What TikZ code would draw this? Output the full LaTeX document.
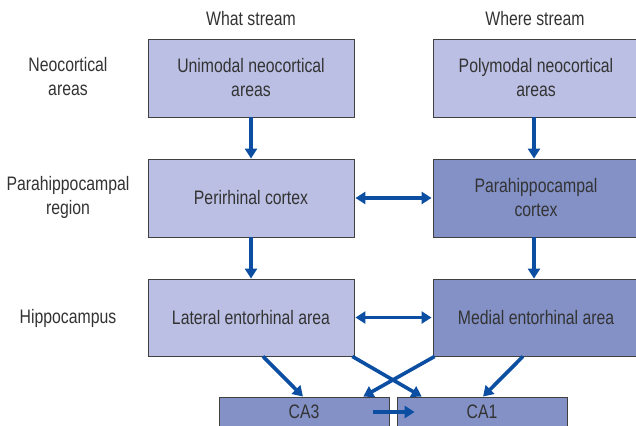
\documentclass[tikz,border=0pt]{standalone}
\usepackage{fontspec}
\setmainfont[FakeStretch=0.81]{Liberation Sans}
\usetikzlibrary{arrows.meta,calc}
\definecolor{lightbox}{HTML}{BBBFE3}
\definecolor{darkbox}{HTML}{8391C7}
\definecolor{arrowblue}{HTML}{0B4EA2}
\definecolor{txt}{HTML}{333333}
\tikzset{
  box/.style={draw=black!75, line width=0.9pt, fill=lightbox, text=txt, align=center, inner sep=0pt,
    font=\fontsize{19.5}{24}\selectfont},
  dbox/.style={box, fill=darkbox},
  lbl/.style={text=txt, align=center, font=\fontsize{19.5}{24}\selectfont},
  arr/.style={draw=arrowblue, line width=3.6pt, -{Triangle[length=10pt,width=12pt]}},
  darr/.style={draw=arrowblue, line width=3.6pt, {Triangle[length=10pt,width=12pt]}-{Triangle[length=10pt,width=12pt]}}
}
\begin{document}
\begin{tikzpicture}[x=1pt,y=-1pt]
\useasboundingbox (0,0) rectangle (636,425);
\clip (0,0) rectangle (636,425);
% headers
\node[lbl] (what) at (251,19) {What stream};
\node[lbl] (where) at (535,19) {Where stream};
\node[lbl] (neo) at (68,77) {Neocortical\\areas};
\node[lbl] (para) at (68,197) {Parahippocampal\\region};
\node[lbl] (hip) at (68,318) {Hippocampus};
% boxes
\node[box, minimum width=206pt, minimum height=78pt] (uni) at (251,78) {Unimodal neocortical\\areas};
\node[box, minimum width=206pt, minimum height=78pt] (poly) at (536,78) {Polymodal neocortical\\areas};
\node[box, minimum width=206pt, minimum height=78pt] (peri) at (251,198) {Perirhinal cortex};
\node[dbox, minimum width=206pt, minimum height=78pt] (parac) at (536,198) {Parahippocampal\\cortex};
\node[box, minimum width=206pt, minimum height=77pt] (lat) at (251,317.5) {Lateral entorhinal area};
\node[dbox, minimum width=206pt, minimum height=77pt] (med) at (536,317.5) {Medial entorhinal area};
\node[dbox, minimum width=170pt, minimum height=30pt] (ca3) at (304,412) {CA3};
\node[dbox, minimum width=170pt, minimum height=30pt] (ca1) at (482,412) {CA1};
% arrows
\draw[arr] (uni.south) -- (peri.north);
\draw[arr] ([xshift=-2pt]poly.south) -- ([xshift=-2pt]parac.north);
\draw[arr] (peri.south) -- (lat.north);
\draw[arr] ([xshift=-2pt]parac.south) -- ([xshift=-2pt]med.north);
\draw[darr] ([xshift=1pt]peri.east) -- ([xshift=-1pt]parac.west);
\draw[darr] ([xshift=1pt]lat.east) -- ([xshift=-1pt]med.west);
\draw[arr] ($(lat.south west)!0.558!(lat.south east)$) -- ($(ca3.north west)!0.494!(ca3.north east)$);
\draw[arr] ($(lat.south west)!0.99!(lat.south east)$) -- ($(ca1.north west)!0.147!(ca1.north east)$);
\draw[arr] ($(med.south west)!0.01!(med.south east)$) -- ($(ca3.north west)!0.847!(ca3.north east)$);
\draw[arr] ($(med.south west)!0.437!(med.south east)$) -- ($(ca1.north west)!0.506!(ca1.north east)$);
\draw[arr] ([xshift=-16pt]ca3.east) -- ([xshift=18pt]ca1.west);
\end{tikzpicture}
\end{document}
